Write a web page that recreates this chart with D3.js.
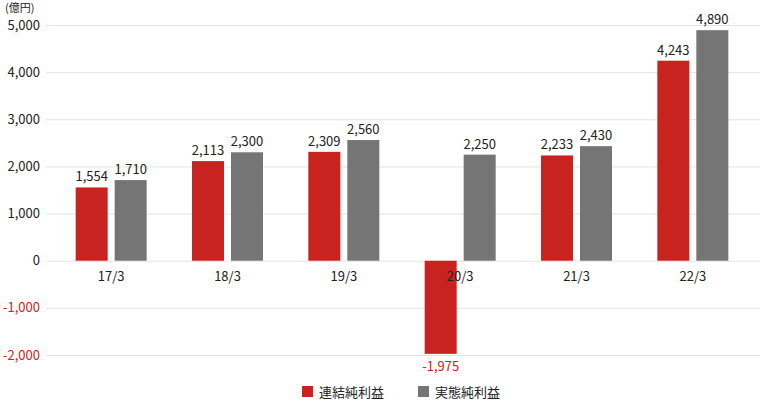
<!DOCTYPE html>
<html><head><meta charset="utf-8">
<script src="https://cdn.jsdelivr.net/npm/d3@7"></script>
<style>body{margin:0;background:#fff}svg{display:block}text{font-family:"Noto Sans CJK JP","Noto Sans",sans-serif}</style>
</head><body><svg id="c" width="760" height="400"></svg>
<script>
const categories = ["17/3","18/3","19/3","20/3","21/3","22/3"];
const consolidated = [1554, 2113, 2309, -1975, 2233, 4243];
const underlying = [1710, 2300, 2560, 2250, 2430, 4890];
const seriesNames = ["連結純利益","実態純利益"];
const yTicks = [-2000,-1000,0,1000,2000,3000,4000,5000];
const unitLabel = "(億円)";

const red = "#c92320", gray = "#757575", grid = "#e3e3e3";
const svg = d3.select("#c");
const y = d3.scaleLinear().domain([-2000, 5000]).range([355, 25]);
const x = d3.scaleBand().domain(categories).range([53, 751]);
const f0 = d3.format(",");
const fmt = v => f0(v).replace("\u2212", "-");

// grid
svg.append("g").selectAll("line").data(yTicks).join("line")
  .attr("x1", 46).attr("x2", 760).attr("y1", d => y(d)+0.5).attr("y2", d => y(d)+0.5)
  .attr("stroke", grid).attr("stroke-width", 1);
// y labels
svg.append("g").selectAll("text").data(yTicks).join("text")
  .attr("x", 40).attr("y", d => y(d)).attr("dy", "0.35em").attr("text-anchor", "end")
  .attr("font-size", 13).attr("fill", d => d < 0 ? red : "#222").text(d => fmt(d));
svg.append("text").attr("x", 5).attr("y", 12).attr("font-size", 11).attr("fill", "#222").text(unitLabel);

const bw = 32, gap = 7;
const groups = [
  {vals: consolidated, color: red, off: -bw - gap/2},
  {vals: underlying, color: gray, off: gap/2}
];
groups.forEach(g => {
  const data = categories.map((c, i) => ({c, v: g.vals[i]}));
  svg.append("g").selectAll("rect").data(data).join("rect")
    .attr("x", d => x(d.c) + x.bandwidth()/2 + g.off)
    .attr("width", bw)
    .attr("y", d => y(Math.max(0, d.v)))
    .attr("height", d => Math.abs(y(d.v) - y(0)))
    .attr("fill", g.color);
  svg.append("g").selectAll("text").data(data).join("text")
    .attr("x", d => x(d.c) + x.bandwidth()/2 + g.off + bw/2)
    .attr("y", d => d.v >= 0 ? y(d.v) - 6 : y(d.v) + 17)
    .attr("text-anchor", "middle").attr("font-size", 13)
    .attr("fill", d => d.v < 0 ? red : "#222")
    .text(d => fmt(d.v));
});
// category labels
svg.append("g").selectAll("text").data(categories).join("text")
  .attr("x", d => x(d) + x.bandwidth()/2).attr("y", y(0) + 20)
  .attr("text-anchor", "middle").attr("font-size", 13).attr("fill", "#222").text(d => d);

// legend
const lg = svg.append("g");
[[302, red], [418, gray]].forEach(([lx, col], i) => {
  lg.append("rect").attr("x", lx).attr("y", 386).attr("width", 11).attr("height", 11).attr("fill", col);
  lg.append("text").attr("x", lx + 17).attr("y", 392).attr("dy", "0.35em").attr("font-size", 13).attr("fill", "#222").text(seriesNames[i]);
});
</script></body></html>
